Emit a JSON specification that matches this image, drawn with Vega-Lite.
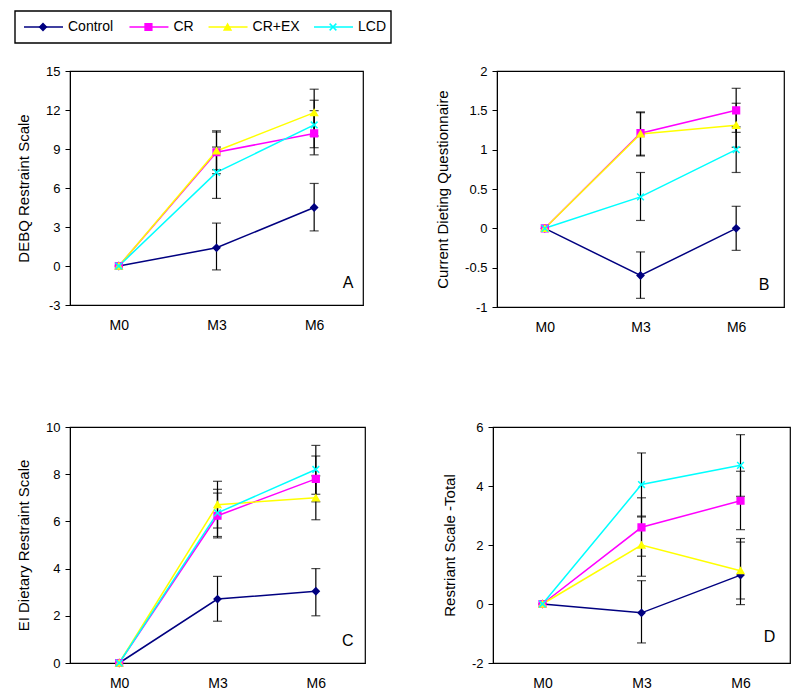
{
  "$schema": "https://vega.github.io/schema/vega-lite/v6.json",
  "padding": {"left": 14, "top": 10, "right": 5, "bottom": 5},
  "background": "white",
  "config": {
    "view": {"stroke": "black", "strokeWidth": 1.2},
    "font": "Liberation Sans",
    "axis": {"labelFont": "Liberation Sans", "titleFont": "Liberation Sans", "labelColor": "black", "titleColor": "black", "domainColor": "black", "tickColor": "black", "grid": false, "titleFontWeight": "normal", "labelOverlap": false},
    "axisX": {"ticks": false, "labelFontSize": 14, "title": null, "labelAngle": 0, "labelPadding": 13},
    "axisY": {"labelFontSize": 13, "titleFontSize": 15, "tickSize": 5, "labelPadding": 5, "titlePadding": 14, "tickCount": 20},
    "tick": {"color": "black"}
  },
  "datasets": {
    "d": [
      {"panel": "A", "group": "Control", "time": "M0", "mean": 0},
      {"panel": "A", "group": "Control", "time": "M3", "mean": 1.4, "lo": -0.3, "hi": 3.3},
      {"panel": "A", "group": "Control", "time": "M6", "mean": 4.5, "lo": 2.7, "hi": 6.35},
      {"panel": "A", "group": "CR", "time": "M0", "mean": 0},
      {"panel": "A", "group": "CR", "time": "M3", "mean": 8.75, "lo": 7.1, "hi": 10.3},
      {"panel": "A", "group": "CR", "time": "M6", "mean": 10.2, "lo": 8.55, "hi": 11.95},
      {"panel": "A", "group": "CR+EX", "time": "M0", "mean": 0},
      {"panel": "A", "group": "CR+EX", "time": "M3", "mean": 8.85, "lo": 7.4, "hi": 10.4},
      {"panel": "A", "group": "CR+EX", "time": "M6", "mean": 11.8, "lo": 10.0, "hi": 13.6},
      {"panel": "A", "group": "LCD", "time": "M0", "mean": 0},
      {"panel": "A", "group": "LCD", "time": "M3", "mean": 7.2, "lo": 5.2, "hi": 9.15},
      {"panel": "A", "group": "LCD", "time": "M6", "mean": 10.85, "lo": 9.1, "hi": 12.75},

      {"panel": "B", "group": "Control", "time": "M0", "mean": 0},
      {"panel": "B", "group": "Control", "time": "M3", "mean": -0.6, "lo": -0.89, "hi": -0.3},
      {"panel": "B", "group": "Control", "time": "M6", "mean": 0, "lo": -0.28, "hi": 0.28},
      {"panel": "B", "group": "CR", "time": "M0", "mean": 0},
      {"panel": "B", "group": "CR", "time": "M3", "mean": 1.21, "lo": 0.93, "hi": 1.48},
      {"panel": "B", "group": "CR", "time": "M6", "mean": 1.5, "lo": 1.22, "hi": 1.78},
      {"panel": "B", "group": "CR+EX", "time": "M0", "mean": 0},
      {"panel": "B", "group": "CR+EX", "time": "M3", "mean": 1.2, "lo": 0.92, "hi": 1.47},
      {"panel": "B", "group": "CR+EX", "time": "M6", "mean": 1.31, "lo": 1.03, "hi": 1.59},
      {"panel": "B", "group": "LCD", "time": "M0", "mean": 0},
      {"panel": "B", "group": "LCD", "time": "M3", "mean": 0.4, "lo": 0.1, "hi": 0.71},
      {"panel": "B", "group": "LCD", "time": "M6", "mean": 1.0, "lo": 0.71, "hi": 1.29},

      {"panel": "C", "group": "Control", "time": "M0", "mean": 0},
      {"panel": "C", "group": "Control", "time": "M3", "mean": 2.71, "lo": 1.77, "hi": 3.67},
      {"panel": "C", "group": "Control", "time": "M6", "mean": 3.04, "lo": 2.0, "hi": 4.0},
      {"panel": "C", "group": "CR", "time": "M0", "mean": 0},
      {"panel": "C", "group": "CR", "time": "M3", "mean": 6.24, "lo": 5.3, "hi": 7.2},
      {"panel": "C", "group": "CR", "time": "M6", "mean": 7.8, "lo": 6.83, "hi": 8.77},
      {"panel": "C", "group": "CR+EX", "time": "M0", "mean": 0},
      {"panel": "C", "group": "CR+EX", "time": "M3", "mean": 6.71, "lo": 5.72, "hi": 7.7},
      {"panel": "C", "group": "CR+EX", "time": "M6", "mean": 7.0, "lo": 6.07, "hi": 7.93},
      {"panel": "C", "group": "LCD", "time": "M0", "mean": 0},
      {"panel": "C", "group": "LCD", "time": "M3", "mean": 6.36, "lo": 5.36, "hi": 7.36},
      {"panel": "C", "group": "LCD", "time": "M6", "mean": 8.2, "lo": 7.15, "hi": 9.22},

      {"panel": "D", "group": "Control", "time": "M0", "mean": 0},
      {"panel": "D", "group": "Control", "time": "M3", "mean": -0.3, "lo": -1.32, "hi": 0.79},
      {"panel": "D", "group": "Control", "time": "M6", "mean": 0.98, "lo": -0.02, "hi": 2.22},
      {"panel": "D", "group": "CR", "time": "M0", "mean": 0},
      {"panel": "D", "group": "CR", "time": "M3", "mean": 2.6, "lo": 1.62, "hi": 3.6},
      {"panel": "D", "group": "CR", "time": "M6", "mean": 3.5, "lo": 2.52, "hi": 4.5},
      {"panel": "D", "group": "CR+EX", "time": "M0", "mean": 0},
      {"panel": "D", "group": "CR+EX", "time": "M3", "mean": 2.0, "lo": 0.94, "hi": 2.95},
      {"panel": "D", "group": "CR+EX", "time": "M6", "mean": 1.13, "lo": 0.17, "hi": 2.1},
      {"panel": "D", "group": "LCD", "time": "M0", "mean": 0},
      {"panel": "D", "group": "LCD", "time": "M3", "mean": 4.05, "lo": 2.98, "hi": 5.12},
      {"panel": "D", "group": "LCD", "time": "M6", "mean": 4.7, "lo": 3.65, "hi": 5.74}
    ],
    "legend": [
      {"group": "Control"}, {"group": "CR"}, {"group": "CR+EX"}, {"group": "LCD"}
    ]
  },
  "concat": [
    {
      "width": 376,
      "height": 32,
      "view": {"stroke": null},
      "data": {"name": "legend"},
      "encoding": {
        "x": {"field": "group", "type": "nominal", "sort": null, "axis": null,
              "scale": {"type": "point", "padding": 0, "domain": ["Control", "s1", "s2", "s3", "CR", "s4", "s5", "CR+EX", "s6", "s7", "s8", "LCD"], "range": [-46, 244]}},
        "y": {"datum": 0, "type": "quantitative", "axis": null, "scale": {"domain": [-1, 1]}}
      },
      "layer": [
        {
          "data": {"values": [{"box": "legend"}]},
          "mark": {"type": "rect", "fill": null, "stroke": "black", "strokeWidth": 1.4, "xOffset": -9, "x2Offset": 77},
          "encoding": {
            "x": {"datum": "Control"},
            "x2": {"datum": "LCD"},
            "y": {"datum": 1},
            "y2": {"datum": -1}
          }
        },
        {
          "mark": {"type": "rule", "strokeWidth": 1.5, "x2Offset": 39},
          "encoding": {
            "x2": {"field": "group"},
            "color": {"field": "group", "type": "nominal", "legend": null,
                      "scale": {"domain": ["Control", "CR", "CR+EX", "LCD"], "range": ["#000080", "#FF00FF", "#FFFF00", "#00FFFF"]}}
          }
        },
        {
          "mark": {"type": "point", "filled": true, "opacity": 1, "strokeWidth": 1.5, "xOffset": 19},
          "encoding": {
            "color": {"field": "group", "type": "nominal", "legend": null,
                      "scale": {"domain": ["Control", "CR", "CR+EX", "LCD"], "range": ["#000080", "#FF00FF", "#FFFF00", "#00FFFF"]}},
            "stroke": {"field": "group", "type": "nominal", "legend": null,
                      "scale": {"domain": ["Control", "CR", "CR+EX", "LCD"], "range": ["#000080", "#FF00FF", "#FFFF00", "#00FFFF"]}},
            "shape": {"field": "group", "type": "nominal", "legend": null,
                      "scale": {"domain": ["Control", "CR", "CR+EX", "LCD"], "range": ["diamond", "square", "triangle-up", "M-1,-1L1,1M-1,1L1,-1"]}},
            "size": {"value": 45}
          }
        },
        {
          "mark": {"type": "text", "align": "left", "baseline": "middle", "fontSize": 14, "font": "Liberation Sans", "color": "black", "xOffset": 44},
          "encoding": {"text": {"field": "group"}}
        }
      ]
    },
    {
      "spacing": 85,
      "vconcat": [
        {
          "spacing": 70,
          "hconcat": [
            {
              "width": 293, "height": 234,
              "data": {"name": "d"},
              "transform": [{"filter": "datum.panel == 'A'"}],
              "encoding": {"x": {"field": "time", "type": "ordinal", "scale": {"type": "point", "padding": 0.5}}},
              "layer": [
                {"mark": {"type": "line", "strokeWidth": 1.5},
                 "encoding": {"y": {"field": "mean", "type": "quantitative", "title": "DEBQ Restraint Scale", "scale": {"domain": [-3, 15], "nice": false, "zero": false}, "axis": {"values": [-3, 0, 3, 6, 9, 12, 15], "tickCount": 20, "labelOverlap": false, "labelExpr": "'' + datum.value"}},
                              "color": {"field": "group", "type": "nominal", "legend": null, "scale": {"domain": ["Control", "CR", "CR+EX", "LCD"], "range": ["#000080", "#FF00FF", "#FFFF00", "#00FFFF"]}}}},
                {"mark": {"type": "rule", "color": "black", "strokeWidth": 1.2},
                 "encoding": {"y": {"field": "lo", "type": "quantitative", "title": "DEBQ Restraint Scale"}, "y2": {"field": "hi"}}},
                {"mark": {"type": "tick", "color": "black", "size": 9, "thickness": 1.2},
                 "encoding": {"y": {"field": "lo", "type": "quantitative", "title": "DEBQ Restraint Scale"}}},
                {"mark": {"type": "tick", "color": "black", "size": 9, "thickness": 1.2},
                 "encoding": {"y": {"field": "hi", "type": "quantitative", "title": "DEBQ Restraint Scale"}}},
                {"mark": {"type": "point", "filled": true, "opacity": 1, "strokeWidth": 1.5},
                 "encoding": {"y": {"field": "mean", "type": "quantitative", "title": "DEBQ Restraint Scale"},
                              "color": {"field": "group", "type": "nominal", "legend": null},
                              "stroke": {"field": "group", "type": "nominal", "legend": null, "scale": {"domain": ["Control", "CR", "CR+EX", "LCD"], "range": ["#000080", "#FF00FF", "#FFFF00", "#00FFFF"]}},
                              "shape": {"field": "group", "type": "nominal", "legend": null, "scale": {"domain": ["Control", "CR", "CR+EX", "LCD"], "range": ["diamond", "square", "triangle-up", "M-1,-1L1,1M-1,1L1,-1"]}},
                              "size": {"value": 45}}},
                {"data": {"values": [{"label": "A"}]},
                 "mark": {"type": "text", "fontSize": 16, "font": "Liberation Sans", "color": "black", "dx": 34},
                 "encoding": {"x": {"datum": "M6"}, "y": {"datum": -1.3}, "text": {"field": "label"}}}
              ]
            },
            {
              "width": 287, "height": 236,
              "data": {"name": "d"},
              "transform": [{"filter": "datum.panel == 'B'"}],
              "encoding": {"x": {"field": "time", "type": "ordinal", "scale": {"type": "point", "padding": 0.5}}},
              "layer": [
                {"mark": {"type": "line", "strokeWidth": 1.5},
                 "encoding": {"y": {"field": "mean", "type": "quantitative", "title": "Current Dieting Questionnaire", "scale": {"domain": [-1, 2], "nice": false, "zero": false}, "axis": {"values": [-1, -0.5, 0, 0.5, 1, 1.5, 2], "tickCount": 20, "labelOverlap": false, "labelExpr": "'' + datum.value"}},
                              "color": {"field": "group", "type": "nominal", "legend": null, "scale": {"domain": ["Control", "CR", "CR+EX", "LCD"], "range": ["#000080", "#FF00FF", "#FFFF00", "#00FFFF"]}}}},
                {"mark": {"type": "rule", "color": "black", "strokeWidth": 1.2},
                 "encoding": {"y": {"field": "lo", "type": "quantitative", "title": "Current Dieting Questionnaire"}, "y2": {"field": "hi"}}},
                {"mark": {"type": "tick", "color": "black", "size": 9, "thickness": 1.2},
                 "encoding": {"y": {"field": "lo", "type": "quantitative", "title": "Current Dieting Questionnaire"}}},
                {"mark": {"type": "tick", "color": "black", "size": 9, "thickness": 1.2},
                 "encoding": {"y": {"field": "hi", "type": "quantitative", "title": "Current Dieting Questionnaire"}}},
                {"mark": {"type": "point", "filled": true, "opacity": 1, "strokeWidth": 1.5},
                 "encoding": {"y": {"field": "mean", "type": "quantitative", "title": "Current Dieting Questionnaire"},
                              "color": {"field": "group", "type": "nominal", "legend": null},
                              "stroke": {"field": "group", "type": "nominal", "legend": null, "scale": {"domain": ["Control", "CR", "CR+EX", "LCD"], "range": ["#000080", "#FF00FF", "#FFFF00", "#00FFFF"]}},
                              "shape": {"field": "group", "type": "nominal", "legend": null, "scale": {"domain": ["Control", "CR", "CR+EX", "LCD"], "range": ["diamond", "square", "triangle-up", "M-1,-1L1,1M-1,1L1,-1"]}},
                              "size": {"value": 45}}},
                {"data": {"values": [{"label": "B"}]},
                 "mark": {"type": "text", "fontSize": 16, "font": "Liberation Sans", "color": "black", "dx": 28},
                 "encoding": {"x": {"datum": "M6"}, "y": {"datum": -0.72}, "text": {"field": "label"}}}
              ]
            }
          ]
        },
        {
          "spacing": 75,
          "hconcat": [
            {
              "width": 295, "height": 236,
              "data": {"name": "d"},
              "transform": [{"filter": "datum.panel == 'C'"}],
              "encoding": {"x": {"field": "time", "type": "ordinal", "scale": {"type": "point", "padding": 0.5}}},
              "layer": [
                {"mark": {"type": "line", "strokeWidth": 1.5},
                 "encoding": {"y": {"field": "mean", "type": "quantitative", "title": "EI Dietary Restraint Scale", "scale": {"domain": [0, 10], "nice": false, "zero": false}, "axis": {"values": [0, 2, 4, 6, 8, 10], "tickCount": 20, "labelOverlap": false, "labelExpr": "'' + datum.value"}},
                              "color": {"field": "group", "type": "nominal", "legend": null, "scale": {"domain": ["Control", "CR", "CR+EX", "LCD"], "range": ["#000080", "#FF00FF", "#FFFF00", "#00FFFF"]}}}},
                {"mark": {"type": "rule", "color": "black", "strokeWidth": 1.2},
                 "encoding": {"y": {"field": "lo", "type": "quantitative", "title": "EI Dietary Restraint Scale"}, "y2": {"field": "hi"}}},
                {"mark": {"type": "tick", "color": "black", "size": 9, "thickness": 1.2},
                 "encoding": {"y": {"field": "lo", "type": "quantitative", "title": "EI Dietary Restraint Scale"}}},
                {"mark": {"type": "tick", "color": "black", "size": 9, "thickness": 1.2},
                 "encoding": {"y": {"field": "hi", "type": "quantitative", "title": "EI Dietary Restraint Scale"}}},
                {"mark": {"type": "point", "filled": true, "opacity": 1, "strokeWidth": 1.5},
                 "encoding": {"y": {"field": "mean", "type": "quantitative", "title": "EI Dietary Restraint Scale"},
                              "color": {"field": "group", "type": "nominal", "legend": null},
                              "stroke": {"field": "group", "type": "nominal", "legend": null, "scale": {"domain": ["Control", "CR", "CR+EX", "LCD"], "range": ["#000080", "#FF00FF", "#FFFF00", "#00FFFF"]}},
                              "shape": {"field": "group", "type": "nominal", "legend": null, "scale": {"domain": ["Control", "CR", "CR+EX", "LCD"], "range": ["diamond", "square", "triangle-up", "M-1,-1L1,1M-1,1L1,-1"]}},
                              "size": {"value": 45}}},
                {"data": {"values": [{"label": "C"}]},
                 "mark": {"type": "text", "fontSize": 16, "font": "Liberation Sans", "color": "black", "dx": 32},
                 "encoding": {"x": {"datum": "M6"}, "y": {"datum": 0.93}, "text": {"field": "label"}}}
              ]
            },
            {
              "width": 297, "height": 236,
              "data": {"name": "d"},
              "transform": [{"filter": "datum.panel == 'D'"}],
              "encoding": {"x": {"field": "time", "type": "ordinal", "scale": {"type": "point", "padding": 0.5}}},
              "layer": [
                {"mark": {"type": "line", "strokeWidth": 1.5},
                 "encoding": {"y": {"field": "mean", "type": "quantitative", "title": "Restriant Scale -Total", "scale": {"domain": [-2, 6], "nice": false, "zero": false}, "axis": {"values": [-2, 0, 2, 4, 6], "tickCount": 20, "labelOverlap": false, "labelExpr": "'' + datum.value"}},
                              "color": {"field": "group", "type": "nominal", "legend": null, "scale": {"domain": ["Control", "CR", "CR+EX", "LCD"], "range": ["#000080", "#FF00FF", "#FFFF00", "#00FFFF"]}}}},
                {"mark": {"type": "rule", "color": "black", "strokeWidth": 1.2},
                 "encoding": {"y": {"field": "lo", "type": "quantitative", "title": "Restriant Scale -Total"}, "y2": {"field": "hi"}}},
                {"mark": {"type": "tick", "color": "black", "size": 9, "thickness": 1.2},
                 "encoding": {"y": {"field": "lo", "type": "quantitative", "title": "Restriant Scale -Total"}}},
                {"mark": {"type": "tick", "color": "black", "size": 9, "thickness": 1.2},
                 "encoding": {"y": {"field": "hi", "type": "quantitative", "title": "Restriant Scale -Total"}}},
                {"mark": {"type": "point", "filled": true, "opacity": 1, "strokeWidth": 1.5},
                 "encoding": {"y": {"field": "mean", "type": "quantitative", "title": "Restriant Scale -Total"},
                              "color": {"field": "group", "type": "nominal", "legend": null},
                              "stroke": {"field": "group", "type": "nominal", "legend": null, "scale": {"domain": ["Control", "CR", "CR+EX", "LCD"], "range": ["#000080", "#FF00FF", "#FFFF00", "#00FFFF"]}},
                              "shape": {"field": "group", "type": "nominal", "legend": null, "scale": {"domain": ["Control", "CR", "CR+EX", "LCD"], "range": ["diamond", "square", "triangle-up", "M-1,-1L1,1M-1,1L1,-1"]}},
                              "size": {"value": 45}}},
                {"data": {"values": [{"label": "D"}]},
                 "mark": {"type": "text", "fontSize": 16, "font": "Liberation Sans", "color": "black", "dx": 29},
                 "encoding": {"x": {"datum": "M6"}, "y": {"datum": -1.12}, "text": {"field": "label"}}}
              ]
            }
          ]
        }
      ]
    }
  ],
  "columns": 1,
  "align": "none",
  "spacing": 20
}
